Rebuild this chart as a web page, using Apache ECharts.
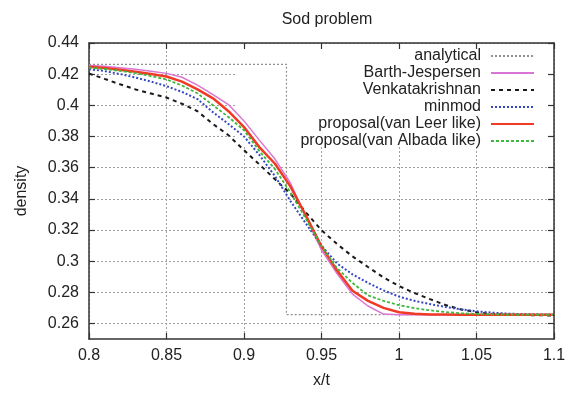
<!DOCTYPE html>
<html>
<head>
<meta charset="utf-8">
<script src="https://cdn.jsdelivr.net/npm/echarts@6/dist/echarts.min.js"></script>
<style>html,body{margin:0;padding:0;background:#fff}#c{width:573px;height:394px}</style>
</head>
<body>
<div id="c"></div>
<script>
const titleText = 'Sod problem';
const xName = 'x/t';
const yName = 'density';
const yTickValues = [0.26, 0.28, 0.3, 0.32, 0.34, 0.36, 0.38, 0.4, 0.42, 0.44];
const seriesNames = ['analytical', 'Barth-Jespersen', 'Venkatakrishnan', 'minmod', 'proposal(van Leer like)', 'proposal(van Albada like)'];

const analyticalX = [0.8, 0.9274, 0.9274, 1.1];
const analyticalY = [0.4263, 0.4263, 0.2656, 0.2656];

const xValues = [0.80,0.81,0.82,0.83,0.84,0.85,0.86,0.87,0.88,0.89,0.90,0.91,0.92,0.93,0.94,0.95,0.96,0.97,0.98,0.99,1.00,1.01,1.02,1.03,1.04,1.05,1.06,1.07,1.08,1.09,1.10];
const barthJespersen = [0.4256,0.4250,0.4241,0.4231,0.4219,0.4205,0.4180,0.4130,0.4068,0.4005,0.3900,0.3775,0.3655,0.3500,0.3285,0.3070,0.2920,0.2788,0.2712,0.2660,0.2656,0.2656,0.2656,0.2656,0.2656,0.2656,0.2656,0.2656,0.2656,0.2656,0.2656];
const venkatakrishnan = [0.4204,0.4170,0.4135,0.4102,0.4076,0.4050,0.4010,0.3962,0.3880,0.3808,0.3712,0.3620,0.3525,0.3432,0.3312,0.3198,0.3110,0.3030,0.2962,0.2895,0.2840,0.2795,0.2756,0.2718,0.2690,0.2671,0.2661,0.2657,0.2654,0.2652,0.2651];
const minmod = [0.4232,0.4220,0.4201,0.4178,0.4152,0.4123,0.4086,0.4040,0.3955,0.3880,0.3800,0.3680,0.3545,0.3385,0.3240,0.3100,0.2985,0.2915,0.2860,0.2812,0.2772,0.2745,0.2724,0.2706,0.2690,0.2678,0.2669,0.2663,0.2660,0.2658,0.2657];
const vanLeer = [0.4248,0.4240,0.4229,0.4216,0.4201,0.4185,0.4152,0.4102,0.4045,0.3962,0.3860,0.3730,0.3625,0.3478,0.3290,0.3095,0.2940,0.2810,0.2745,0.2700,0.2672,0.2662,0.2658,0.2657,0.2656,0.2656,0.2656,0.2656,0.2656,0.2656,0.2656];
const vanAlbada = [0.4242,0.4233,0.4221,0.4206,0.4188,0.4166,0.4127,0.4077,0.4000,0.3925,0.3840,0.3705,0.3590,0.3440,0.3270,0.3095,0.2955,0.2860,0.2780,0.2745,0.2717,0.2698,0.2684,0.2673,0.2665,0.2661,0.2658,0.2657,0.2656,0.2656,0.2656];

const FONT = 'Liberation Sans';
const pair = (xs, ys) => xs.map((x, i) => [x, ys[i]]);
const chart = echarts.init(document.getElementById('c'), null, {renderer: 'canvas'});

const frameLine = {show: true, onZero: false, lineStyle: {color: '#333', width: 1.5}};
const tickIn = {show: true, inside: true, length: 6, lineStyle: {color: '#333', width: 1.2}};
const gridLine = {show: true, lineStyle: {color: '#a0a0a0', width: 1, type: [2, 2]}};

function lineSeries(name, ys, color, width, type) {
  return {
    name, type: 'line', data: pair(xValues, ys), symbol: 'none', smooth: false,
    lineStyle: {color, width, type}, itemStyle: {color}, xAxisIndex: 0, yAxisIndex: 0, z: 3
  };
}

chart.setOption({
  animation: false,
  backgroundColor: '#fff',
  title: {
    text: titleText, left: 322, top: 7, textAlign: 'center',
    textStyle: {fontFamily: FONT, fontSize: 16, fontWeight: 'normal', color: '#222'}
  },
  grid: {left: 89, right: 19, top: 43, bottom: 51, containLabel: false},
  graphic: [{
    type: 'rect', z: 1, silent: true,
    shape: {x: 235, y: 44, width: 318, height: 103},
    style: {fill: '#fff'}
  }],
  legend: {
    orient: 'vertical', align: 'right', right: 38, top: 48, padding: 0,
    itemWidth: 43, itemHeight: 16, itemGap: 1, z: 4,
    itemStyle: {opacity: 0},
    textStyle: {fontFamily: FONT, fontSize: 16, color: '#222', padding: [0, 5, 0, 0]},
    data: seriesNames
  },
  xAxis: [{
    type: 'value', min: 0.8, max: 1.1, interval: 0.05, position: 'bottom',
    axisLine: frameLine, axisTick: tickIn, splitLine: gridLine,
    axisLabel: {margin: 9, fontFamily: FONT, fontSize: 16, color: '#222'},
    name: xName, nameLocation: 'middle', nameGap: 34,
    nameTextStyle: {fontFamily: FONT, fontSize: 16, color: '#222'}
  }, {
    type: 'value', min: 0.8, max: 1.1, interval: 0.05, position: 'top', z: 5,
    axisLine: frameLine, axisTick: tickIn, splitLine: {show: false}, axisLabel: {show: false}
  }],
  yAxis: [{
    type: 'value', min: 0.25, max: 0.44, position: 'left',
    axisLine: frameLine,
    axisTick: Object.assign({customValues: yTickValues}, tickIn),
    splitLine: gridLine,
    axisLabel: {customValues: yTickValues, margin: 10, fontFamily: FONT, fontSize: 16, color: '#222'},
    name: yName, nameLocation: 'middle', nameGap: 59, nameRotate: 90,
    nameTextStyle: {fontFamily: FONT, fontSize: 16, color: '#222'}
  }, {
    type: 'value', min: 0.25, max: 0.44, position: 'right', z: 5,
    axisLine: frameLine,
    axisTick: Object.assign({customValues: yTickValues}, tickIn),
    splitLine: {show: false}, axisLabel: {show: false}
  }],
  series: [
    {
      name: seriesNames[0], type: 'line', data: pair(analyticalX, analyticalY), symbol: 'none',
      lineStyle: {color: '#8f8f8f', width: 1.2, type: [2, 2]}, itemStyle: {color: '#8f8f8f'}, z: 3
    },
    lineSeries(seriesNames[1], barthJespersen, '#d975d2', 1.5, 'solid'),
    lineSeries(seriesNames[2], venkatakrishnan, '#1a1a1a', 2, [4, 4]),
    lineSeries(seriesNames[3], minmod, '#3548c4', 2, [2, 2]),
    lineSeries(seriesNames[4], vanLeer, '#f03a26', 2.5, 'solid'),
    lineSeries(seriesNames[5], vanAlbada, '#3cb83c', 1.8, [3, 2])
  ]
});
</script>
</body>
</html>
